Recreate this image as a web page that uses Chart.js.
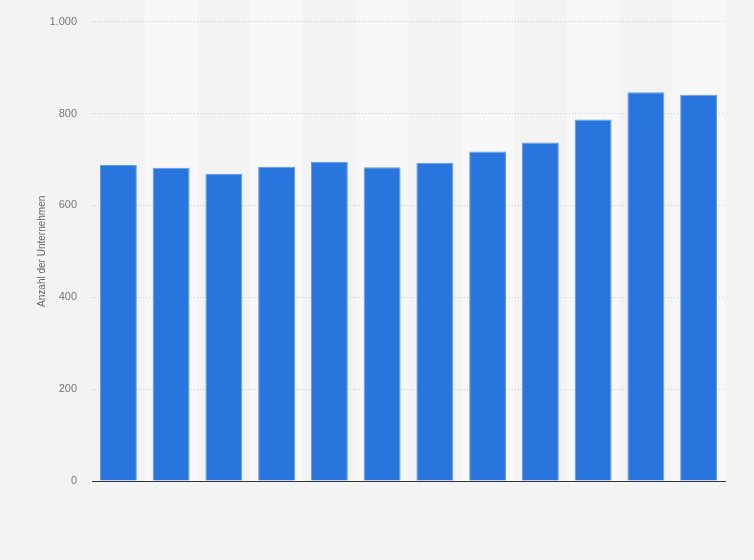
<!DOCTYPE html>
<html>
<head>
<meta charset="utf-8">
<script src="https://cdn.jsdelivr.net/npm/chart.js@4"></script>
<style>
  body { margin: 0; background: #f3f3f3; }
  #wrap { width: 754px; height: 560px; }
</style>
</head>
<body>
<div id="wrap"><canvas id="grafico" width="754" height="560"></canvas></div>
<script>
// Kategorien (keine Beschriftung im Original sichtbar)
const kategorien = ['1', '2', '3', '4', '5', '6', '7', '8', '9', '10', '11', '12'];
// Anzahl der Unternehmen
const werte = [688, 682, 669, 684, 695, 683, 693, 717, 737, 787, 846, 841];
const yTicks = [0, 200, 400, 600, 800, 1000];

function formatDe(n) {
    return String(n).replace(/\B(?=(\d{3})+(?!\d))/g, '.');
}

// abwechselnde Spalten im Hintergrund
const streifen = {
    id: 'streifen',
    beforeDraw(chart) {
        const ctx = chart.ctx;
        const x = chart.scales.x;
        const area = chart.chartArea;
        ctx.save();
        ctx.fillStyle = '#f3f3f3';
        ctx.fillRect(0, 0, chart.width, chart.height);
        ctx.fillStyle = '#f8f8f8';
        const w = (area.right - area.left) / kategorien.length;
        kategorien.forEach((k, i) => {
            if (i % 2 == 1) {
                const cx = x.getPixelForValue(i);
                ctx.fillRect(cx - w / 2, 0, w, area.bottom);
            }
        });
        ctx.restore();
    }
};

new Chart(document.getElementById('grafico'), {
    type: 'bar',
    data: {
        labels: kategorien,
        datasets: [{
            label: 'Anzahl der Unternehmen',
            data: werte,
            backgroundColor: '#2876dd',
            borderColor: '#5e9ce8',
            borderWidth: 1,
            barPercentage: 0.7,
            categoryPercentage: 1.0
        }]
    },
    options: {
        responsive: false,
        animation: false,
        layout: { padding: { top: 18, right: 29, bottom: 79, left: 0 } },
        plugins: {
            legend: { display: false },
            tooltip: { enabled: false }
        },
        scales: {
            x: {
                ticks: { display: false },
                grid: { display: false, drawTicks: false },
                border: { display: true, color: '#333333', width: 1 }
            },
            y: {
                min: 0,
                max: 1000,
                afterFit(scale) { scale.width = 92; },
                afterBuildTicks(scale) { scale.ticks = yTicks.map(v => ({ value: v })); },
                ticks: {
                    padding: 15,
                    color: '#777777',
                    font: { family: 'Liberation Sans, Arial, sans-serif', size: 11 },
                    callback: v => formatDe(v)
                },
                grid: {
                    color: '#cccccc',
                    lineWidth: 1,
                    drawTicks: false
                },
                border: { display: false, dash: [1, 2] },
                title: {
                    display: true,
                    text: 'Anzahl der Unternehmen',
                    color: '#666666',
                    font: { family: 'Liberation Sans, Arial, sans-serif', size: 10 },
                    padding: { top: 36, bottom: 0 }
                }
            }
        }
    },
    plugins: [streifen]
});
</script>
</body>
</html>
